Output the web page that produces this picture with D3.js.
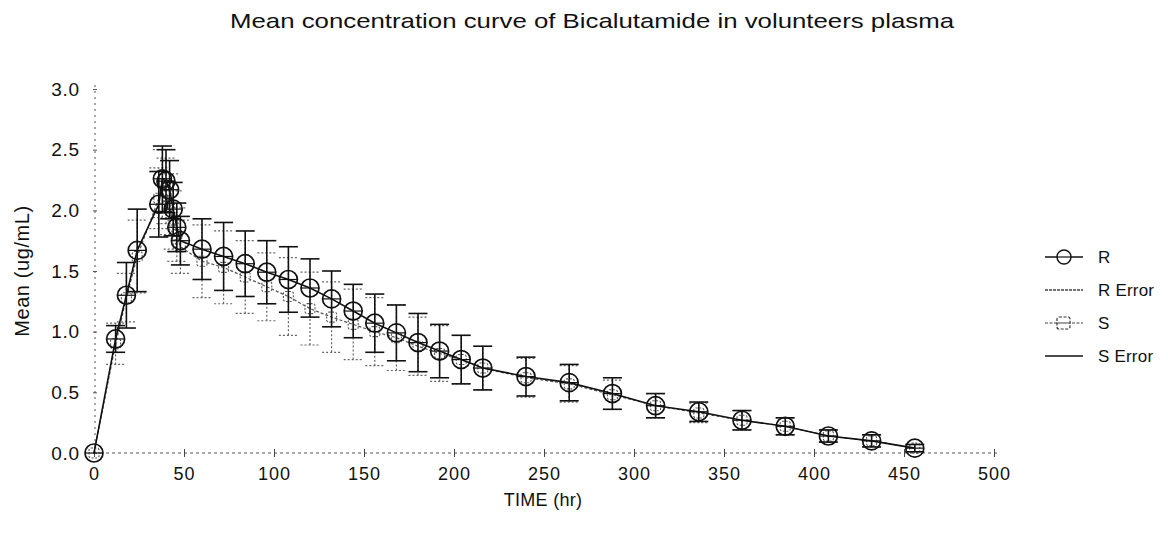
<!DOCTYPE html>
<html>
<head>
<meta charset="utf-8">
<script src="https://cdn.jsdelivr.net/npm/d3@7/dist/d3.min.js"></script>
<style>
  html, body { margin: 0; padding: 0; background: #fff; }
  svg { display: block; }
  text { font-family: "Liberation Sans", Arial, Helvetica, sans-serif; fill: #111; }
</style>
</head>
<body>
<svg id="chart" width="1168" height="533"></svg>
<script>
// ---- data ----
const times = [0, 12, 18, 24, 36, 38, 40, 42, 44, 46, 48, 60, 72, 84, 96, 108, 120, 132, 144, 156, 168, 180, 192, 204, 216, 240, 264, 288, 312, 336, 360, 384, 408, 432, 456];
const rMean = [0, 0.94, 1.30, 1.67, 2.05, 2.26, 2.24, 2.17, 2.01, 1.86, 1.75, 1.68, 1.62, 1.56, 1.49, 1.43, 1.36, 1.27, 1.17, 1.07, 0.99, 0.91, 0.84, 0.77, 0.70, 0.63, 0.58, 0.49, 0.39, 0.34, 0.27, 0.22, 0.14, 0.10, 0.04];
const rErr  = [0, 0.11, 0.27, 0.34, 0.27, 0.27, 0.26, 0.24, 0.22, 0.20, 0.20, 0.25, 0.28, 0.27, 0.26, 0.27, 0.24, 0.23, 0.22, 0.24, 0.23, 0.24, 0.22, 0.20, 0.18, 0.16, 0.15, 0.13, 0.10, 0.08, 0.08, 0.07, 0.05, 0.05, 0.03];
const sMean = [0, 0.90, 1.28, 1.62, 2.10, 2.22, 2.16, 2.05, 1.92, 1.80, 1.70, 1.58, 1.53, 1.45, 1.37, 1.29, 1.19, 1.12, 1.06, 1.00, 0.95, 0.88, 0.82, 0.77, 0.70, 0.62, 0.57, 0.48, 0.39, 0.33, 0.27, 0.22, 0.14, 0.10, 0.04];
const sErr  = [0, 0.17, 0.20, 0.30, 0.25, 0.28, 0.27, 0.25, 0.24, 0.22, 0.22, 0.30, 0.30, 0.30, 0.28, 0.32, 0.30, 0.29, 0.29, 0.28, 0.27, 0.24, 0.23, 0.20, 0.18, 0.16, 0.15, 0.12, 0.10, 0.08, 0.08, 0.07, 0.05, 0.05, 0.03];
const xTicks = [0, 50, 100, 150, 200, 250, 300, 350, 400, 450, 500];
const yTicks = [0.0, 0.5, 1.0, 1.5, 2.0, 2.5, 3.0];
const legendItems = ["R", "R Error", "S", "S Error"];
const titleText = "Mean concentration curve of Bicalutamide in volunteers plasma";
const xTitle = "TIME (hr)";
const yTitle = "Mean (ug/mL)";

// ---- layout ----
const svg = d3.select("#chart");
const x = d3.scaleLinear().domain([0, 500]).range([94, 994]);
const y = d3.scaleLinear().domain([0, 3]).range([453, 89]);

const R = times.map((t, i) => ({ t, m: rMean[i], e: rErr[i] }));
const S = times.map((t, i) => ({ t, m: sMean[i], e: sErr[i] }));

// title
svg.append("text")
  .attr("x", 592).attr("y", 28)
  .attr("text-anchor", "middle")
  .attr("font-size", 21)
  .attr("textLength", 724).attr("lengthAdjust", "spacingAndGlyphs")
  .text(titleText);

// axes
const xAxis = svg.append("g")
  .attr("transform", `translate(0,${y(0)})`)
  .call(d3.axisBottom(x).tickValues(xTicks).tickSize(4).tickPadding(10).tickFormat(d3.format("d")));
xAxis.select(".domain").attr("stroke", "#555").attr("stroke-dasharray", "3,3").attr("d", `M${x(0)},0H${x(500) + 6}`);
xAxis.selectAll(".tick line").attr("y1", -4).attr("y2", 4).attr("stroke", "#444");
xAxis.selectAll(".tick text").attr("font-size", 18).attr("letter-spacing", 1).attr("fill", "#111");

const yAxis = svg.append("g")
  .attr("transform", `translate(${x(0) + 1},0)`)
  .call(d3.axisLeft(y).tickValues(yTicks).tickSize(3).tickPadding(12).tickFormat(d3.format(".1f")));
yAxis.select(".domain").attr("stroke", "#555").attr("stroke-dasharray", "2,4").attr("d", `M0,${y(0)}V${y(3) - 6}`);
yAxis.selectAll(".tick line").attr("x1", -2).attr("x2", 2).attr("stroke", "#555");
yAxis.selectAll(".tick text").attr("font-size", 19).attr("letter-spacing", 0.8).attr("fill", "#111");

// axis titles
svg.append("text").attr("x", 543).attr("y", 506).attr("text-anchor", "middle")
  .attr("font-size", 18).attr("letter-spacing", 0.3).text(xTitle);
svg.append("text").attr("transform", `translate(29,271) rotate(-90)`).attr("text-anchor", "middle")
  .attr("font-size", 20).attr("letter-spacing", 0.6).text(yTitle);

const line = d3.line().x(d => x(d.t)).y(d => y(d.m));
const capW = 9.5;

// ---- S series (behind) ----
const gS = svg.append("g");
gS.selectAll("g.errS").data(S.filter(d => d.e > 0)).join("g").attr("class", "errS")
  .each(function (d) {
    const g = d3.select(this);
    g.append("line").attr("x1", x(d.t)).attr("x2", x(d.t)).attr("y1", y(d.m - d.e)).attr("y2", y(d.m + d.e));
    g.append("line").attr("x1", x(d.t) - capW).attr("x2", x(d.t) + capW).attr("y1", y(d.m - d.e)).attr("y2", y(d.m - d.e));
    g.append("line").attr("x1", x(d.t) - capW).attr("x2", x(d.t) + capW).attr("y1", y(d.m + d.e)).attr("y2", y(d.m + d.e));
  })
  .attr("stroke", "#666").attr("stroke-width", 1.2).attr("stroke-dasharray", "2,2");
gS.append("path").datum(S).attr("d", line).attr("fill", "none")
  .attr("stroke", "#555").attr("stroke-width", 1.2).attr("stroke-dasharray", "3,2");
gS.selectAll("rect").data(S).join("rect")
  .attr("x", d => x(d.t) - 5).attr("y", d => y(d.m) - 5).attr("width", 10).attr("height", 10)
  .attr("rx", 2).attr("fill", "none").attr("stroke", "#555").attr("stroke-width", 1.1).attr("stroke-dasharray", "2,1.5");

// ---- R series (front) ----
const gR = svg.append("g");
gR.selectAll("g.errR").data(R.filter(d => d.e > 0)).join("g").attr("class", "errR")
  .each(function (d) {
    const g = d3.select(this);
    g.append("line").attr("x1", x(d.t)).attr("x2", x(d.t)).attr("y1", y(d.m - d.e)).attr("y2", y(d.m + d.e));
    g.append("line").attr("x1", x(d.t) - capW).attr("x2", x(d.t) + capW).attr("y1", y(d.m - d.e)).attr("y2", y(d.m - d.e));
    g.append("line").attr("x1", x(d.t) - capW).attr("x2", x(d.t) + capW).attr("y1", y(d.m + d.e)).attr("y2", y(d.m + d.e));
  })
  .attr("stroke", "#111").attr("stroke-width", 1.6);
gR.append("path").datum(R).attr("d", line).attr("fill", "none")
  .attr("stroke", "#111").attr("stroke-width", 1.6);
gR.selectAll("circle").data(R).join("circle")
  .attr("cx", d => x(d.t)).attr("cy", d => y(d.m)).attr("r", 9)
  .attr("fill", "none").attr("stroke", "#111").attr("stroke-width", 1.7);
// horizontal bar through each circle (as in the reference markers)
gR.selectAll("line.mid").data(R).join("line").attr("class", "mid")
  .attr("x1", d => x(d.t) - 9).attr("x2", d => x(d.t) + 9)
  .attr("y1", d => y(d.m)).attr("y2", d => y(d.m))
  .attr("stroke", "#111").attr("stroke-width", 1.2);

// ---- legend ----
const lg = svg.append("g");
const ly = d3.scalePoint().domain(legendItems).range([257, 356]);
const lx0 = 1045, lx1 = 1083, lxc = 1064;
legendItems.forEach(name => {
  const yy = ly(name);
  const g = lg.append("g");
  if (name === "R") {
    g.append("line").attr("x1", lx0).attr("x2", lx1).attr("y1", yy).attr("y2", yy).attr("stroke", "#111").attr("stroke-width", 1.4);
    g.append("circle").attr("cx", lxc).attr("cy", yy).attr("r", 7).attr("fill", "#fff").attr("stroke", "#111").attr("stroke-width", 1.4);
    g.append("line").attr("x1", lxc - 7).attr("x2", lxc + 7).attr("y1", yy).attr("y2", yy).attr("stroke", "#111").attr("stroke-width", 1.2);
  } else if (name === "R Error") {
    g.append("line").attr("x1", lx0).attr("x2", lx1).attr("y1", yy).attr("y2", yy).attr("stroke", "#444").attr("stroke-width", 1.4).attr("stroke-dasharray", "3,1");
  } else if (name === "S") {
    g.append("line").attr("x1", lx0).attr("x2", lx1).attr("y1", yy).attr("y2", yy).attr("stroke", "#444").attr("stroke-width", 1.2).attr("stroke-dasharray", "3,1.5");
    g.append("rect").attr("x", lxc - 7).attr("y", yy - 6).attr("width", 13).attr("height", 12).attr("rx", 2).attr("fill", "#fff").attr("stroke", "#333").attr("stroke-width", 1.2).attr("stroke-dasharray", "3,1.5");
    g.append("line").attr("x1", lxc - 7).attr("x2", lxc + 6).attr("y1", yy).attr("y2", yy).attr("stroke", "#444").attr("stroke-width", 1);
  } else {
    g.append("line").attr("x1", lx0).attr("x2", lx1).attr("y1", yy).attr("y2", yy).attr("stroke", "#111").attr("stroke-width", 1.6);
  }
  g.append("text").attr("x", 1098).attr("y", yy + 6).attr("font-size", 17).attr("letter-spacing", 0.2).text(name);
});
</script>
</body>
</html>
